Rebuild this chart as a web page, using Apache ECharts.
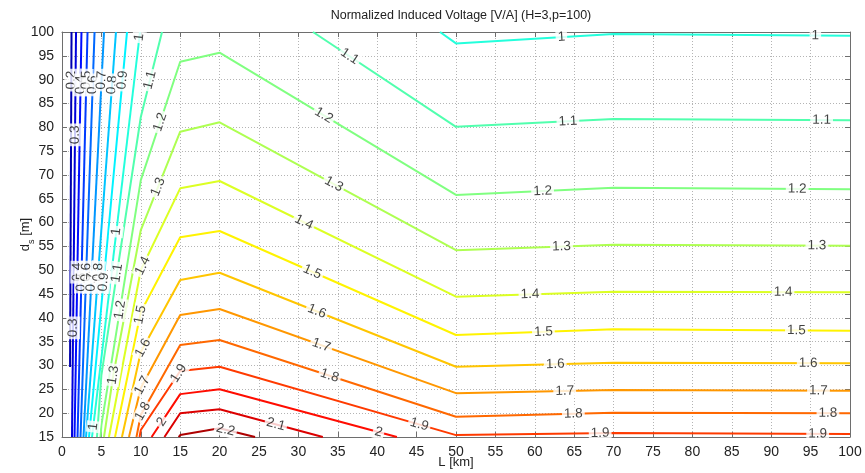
<!DOCTYPE html>
<html><head><meta charset="utf-8">
<script src="https://cdn.jsdelivr.net/npm/echarts@6/dist/echarts.min.js"></script>
<style>html,body{margin:0;padding:0;background:#fff;overflow:hidden}#chart{width:865px;height:473px}</style>
</head><body><div id="chart"></div>
<script>
// Contour lines of the normalized induced voltage, one array per level.
// Each level holds one or more polylines of [L (km), d_s (m)] vertices.
const c0_2 = [[[1.21,100],[1.02,29.7]]];
const c0_3 = [[[1.78,100],[1.27,15]]];
const c0_4 = [[[2.47,100],[1.59,15]]];
const c0_5 = [[[3.24,100],[1.97,15]]];
const c0_6 = [[[4.13,100],[2.35,15]]];
const c0_7 = [[[5.33,100],[2.73,15]]];
const c0_8 = [[[6.85,100],[3.05,15]]];
const c0_9 = [[[8.25,100],[3.43,15]]];
const c1_0 = [[[9.90,100],[3.81,15]], [[47.97,100],[50,97.6],[70,99.6],[100,99.2]]];
const c1_1 = [[[12.69,100],[10,82.16],[5,28.0],[4.44,15]], [[31.85,100],[50,80.1],[70,81.74],[100,81.5]]];
const c1_2 = [[[4.89,15],[5,17.5],[10,68.9],[15,93.76],[20,95.65],[50,65.8],[70,67.3],[100,67.0]]];
const c1_3 = [[[5.33,15],[6.51,28.0],[10,58.44],[15,79.07],[20,81.05],[50,54.2],[70,55.36],[100,55.15]]];
const c1_4 = [[[5.96,15],[10,50.05],[15,67.19],[20,68.73],[50,44.45],[70,45.5],[100,45.37]]];
const c1_5 = [[[6.73,15],[10,41.23],[15,56.91],[20,58.23],[50,36.4],[70,37.6],[100,37.3]]];
const c1_6 = [[[7.61,15],[10,32.84],[15,47.95],[20,49.48],[50,29.75],[70,30.6],[100,30.47]]];
const c1_7 = [[[8.5,15],[10,25.28],[15,40.6],[20,41.86],[50,24.2],[70,24.86],[100,24.7]]];
const c1_8 = [[[9.45,15],[10,19.62],[15,34.3],[20,35.36],[50,19.26],[70,20.1],[100,20.0]]];
const c1_9 = [[[9.84,15],[10,16.47],[15,28.85],[20,29.75],[50,15.4],[70,15.84],[100,15.63]]];
const c2_0 = [[[11.37,15],[15,24.0],[20,25.01],[42.5,15]]];
const c2_1 = [[[13.0,15],[15,19.97],[20,20.81],[33.1,15]]];
const c2_2 = [[[14.8,15],[15,15.42],[20,16.83],[24.5,15]]];

const contourLevels = [
  [0.2, c0_2], [0.3, c0_3], [0.4, c0_4], [0.5, c0_5], [0.6, c0_6], [0.7, c0_7],
  [0.8, c0_8], [0.9, c0_9], [1.0, c1_0], [1.1, c1_1], [1.2, c1_2], [1.3, c1_3],
  [1.4, c1_4], [1.5, c1_5], [1.6, c1_6], [1.7, c1_7], [1.8, c1_8], [1.9, c1_9],
  [2.0, c2_0], [2.1, c2_1], [2.2, c2_2]
];

// Inline level labels: [level, L, d_s] near where each label sits on its line
const labelSpots = [
  [0.2,1.23,89.9],
  [0.3,1.65,78.4],[0.3,1.43,37.9],
  [0.4,2.41,88.9],[0.4,1.78,49.6],
  [0.5,3.17,89.9],[0.5,2.41,47.5],
  [0.6,4.06,88.9],[0.6,2.92,49.6],
  [0.7,5.08,89.9],[0.7,3.68,47.5],
  [0.8,6.47,88.9],[0.8,4.44,49.6],
  [0.9,7.74,89.9],[0.9,5.33,47.5],
  [1.0,9.64,98.9],[1.0,6.94,58.1],[1.0,3.77,17.2],[1.0,63.4,98.3],[1.0,95.6,98.7],
  [1.1,11.17,89.9],[1.1,6.94,49.4],[1.1,36.2,94.1],[1.1,64.2,81.5],[1.1,96.4,81.5],
  [1.2,12.44,81.1],[1.2,7.36,41.7],[1.2,33.1,82.2],[1.2,61.0,66.2],[1.2,93.3,66.8],
  [1.3,12.18,67.5],[1.3,6.51,28.0],[1.3,34.2,67.2],[1.3,63.4,54.7],[1.3,95.8,54.9],
  [1.4,10.53,50.7],[1.4,30.4,59.1],[1.4,59.4,44.4],[1.4,91.5,45.0],
  [1.5,10.11,40.6],[1.5,31.7,49.4],[1.5,61.1,36.6],[1.5,93.2,37.0],
  [1.6,10.28,33.7],[1.6,32.1,40.4],[1.6,62.6,29.9],[1.6,94.7,30.1],
  [1.7,10.11,25.9],[1.7,32.7,33.3],[1.7,63.8,24.2],[1.7,96.0,24.5],
  [1.8,9.9,20.7],[1.8,33.8,27.0],[1.8,64.9,19.3],[1.8,97.2,19.4],
  [1.9,15.4,27.7],[1.9,45.2,16.8],[1.9,68.3,15.2],[1.9,95.9,15.2],
  [2.0,12.65,18.2],[2.0,40.1,15.6],
  [2.1,27.0,16.8],
  [2.2,20.7,16.1]
];

const FONT = '"Liberation Sans", Arial, Helvetica, sans-serif';
const C_MIN = 0.1, C_MAX = 2.3;

// MATLAB-style jet colormap
function jet(v) {
  const t = Math.min(1, Math.max(0, (v - C_MIN) / (C_MAX - C_MIN)));
  const f = x => Math.round(255 * Math.min(1, Math.max(0, x)));
  return 'rgb(' + f(1.5 - Math.abs(4 * t - 3)) + ',' + f(1.5 - Math.abs(4 * t - 2)) + ',' + f(1.5 - Math.abs(4 * t - 1)) + ')';
}

const chart = echarts.init(document.getElementById('chart'), null, { renderer: 'canvas' });

function axisBase(extra) {
  return Object.assign({
    type: 'value',
    axisLine: { show: true, onZero: false, lineStyle: { color: '#6e6e6e', width: 1 } },
    axisTick: { show: true, inside: true, length: 5, lineStyle: { color: '#6e6e6e' } },
    axisLabel: { show: false },
    splitLine: { show: false }
  }, extra);
}

const xLim = { min: 0, max: 100, interval: 5 };
const yLim = { min: 15, max: 100, interval: 5 };

const lineSeries = [];
contourLevels.forEach(([lvl, pieces]) => {
  pieces.forEach(piece => {
    lineSeries.push({
      type: 'line', data: piece, showSymbol: false, symbol: 'none', silent: true,
      clip: true, z: 3,
      lineStyle: { color: jet(lvl), width: 2 }
    });
  });
});

chart.setOption({
  animation: false,
  backgroundColor: '#ffffff',
  title: {
    text: 'Normalized Induced Voltage [V/A] (H=3,p=100)',
    left: 456, top: 4, textAlign: 'center',
    textStyle: { fontSize: 12.5, fontWeight: 'normal', color: '#222', fontFamily: FONT }
  },
  grid: { left: 62, right: 15, top: 32, bottom: 36, containLabel: false, outerBoundsMode: 'none' },
  xAxis: [
    axisBase(Object.assign({
      position: 'bottom',
      axisLabel: { show: true, fontSize: 14, color: '#222', margin: 8, fontFamily: FONT },
      splitLine: { show: true, lineStyle: { type: [1, 2], color: '#b4b4b4', width: 1 } },
      name: 'L [km]', nameLocation: 'middle', nameGap: 19, nameMoveOverlap: false,
      nameTextStyle: { fontSize: 13, color: '#222', fontFamily: FONT }
    }, xLim)),
    axisBase(Object.assign({ position: 'top' }, xLim))
  ],
  yAxis: [
    axisBase(Object.assign({
      position: 'left',
      axisLabel: { show: true, fontSize: 14, color: '#222', margin: 8, fontFamily: FONT },
      splitLine: { show: true, lineStyle: { type: [1, 2], color: '#b4b4b4', width: 1 } },
      name: '{a|d}{b|s}{a| [m]}', nameLocation: 'middle', nameGap: 30, nameMoveOverlap: false,
      nameTextStyle: {
        color: '#222', fontFamily: FONT,
        rich: {
          a: { fontSize: 13, color: '#222', fontFamily: FONT, lineHeight: 18, verticalAlign: 'bottom' },
          b: { fontSize: 9, color: '#222', fontFamily: FONT, lineHeight: 18, verticalAlign: 'bottom', padding: [0, 0, -4, 0] }
        }
      }
    }, yLim)),
    axisBase(Object.assign({ position: 'right' }, yLim))
  ],
  series: lineSeries
});

// Place each label on its contour and turn it along the line
function placeLabels() {
  const toPx = p => chart.convertToPixel({ gridIndex: 0 }, p);
  const items = [];
  labelSpots.forEach(([lvl, L, d]) => {
    const entry = contourLevels.find(e => e[0] === lvl);
    const target = toPx([L, d]);
    let best = null;
    entry[1].forEach(piece => {
      const pts = piece.map(toPx);
      for (let i = 0; i < pts.length - 1; i++) {
        const a = pts[i], b = pts[i + 1];
        const dx = b[0] - a[0], dy = b[1] - a[1];
        const len2 = dx * dx + dy * dy || 1;
        let s = ((target[0] - a[0]) * dx + (target[1] - a[1]) * dy) / len2;
        s = Math.max(0, Math.min(1, s));
        const q = [a[0] + s * dx, a[1] + s * dy];
        const dist = Math.hypot(q[0] - target[0], q[1] - target[1]);
        if (!best || dist < best.dist) best = { dist, q, dx, dy };
      }
    });
    let ang = -Math.atan2(best.dy, best.dx) * 180 / Math.PI;
    if (ang > 90) ang -= 180;
    if (ang <= -90) ang += 180;
    if (Math.abs(ang + 90) < 0.5) ang = 90;
    const pos = chart.convertFromPixel({ gridIndex: 0 }, best.q);
    items.push({
      value: pos,
      label: { rotate: ang, formatter: String(lvl) }
    });
  });
  chart.setOption({
    series: lineSeries.concat([{
      type: 'scatter', data: items, symbol: 'circle', symbolSize: 1, silent: true, z: 5,
      itemStyle: { color: 'rgba(0,0,0,0)' },
      label: {
        show: true, position: 'inside', color: '#111', fontSize: 13.5, fontFamily: FONT,
        backgroundColor: '#ffffff', padding: [0, 2, 0, 2]
      }
    }])
  });
  // the plot area clips labels sitting on the lower edge
  const y0 = chart.convertToPixel({ gridIndex: 0 }, [0, 15])[1];
  chart.setOption({
    graphic: [{
      type: 'rect', z: 100, silent: true,
      shape: { x: 60, y: y0 + 1, width: 795, height: 5 },
      style: { fill: '#ffffff' }
    }]
  });
}
placeLabels();
</script>
</body></html>
